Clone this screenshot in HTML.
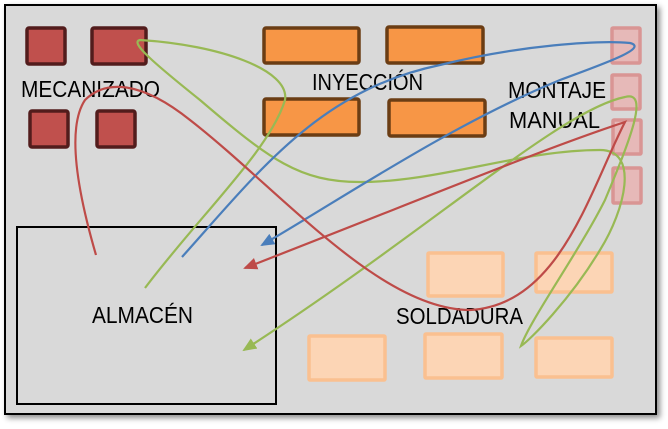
<!DOCTYPE html>
<html><head><meta charset="utf-8"><style>
html,body{margin:0;padding:0;background:#fff;}
svg{display:block;}
text{font-family:"Liberation Sans",sans-serif;font-size:23px;fill:#000;}
</style></head><body>
<svg width="668" height="429" viewBox="0 0 668 429" xmlns="http://www.w3.org/2000/svg">
<defs>
<filter id="sh" x="-5%" y="-5%" width="110%" height="110%"><feDropShadow dx="3" dy="3" stdDeviation="3" flood-color="#000" flood-opacity="0.45"/></filter>
<marker id="ab" markerWidth="14" markerHeight="12" refX="12" refY="6" orient="auto" markerUnits="userSpaceOnUse"><path d="M0,0 L14,6 L0,12 z" fill="#4a7ebb"/></marker>
<marker id="ar" markerWidth="14" markerHeight="12" refX="12" refY="6" orient="auto" markerUnits="userSpaceOnUse"><path d="M0,0 L14,6 L0,12 z" fill="#be4b48"/></marker>
<marker id="ag" markerWidth="14" markerHeight="12" refX="12" refY="6" orient="auto" markerUnits="userSpaceOnUse"><path d="M0,0 L14,6 L0,12 z" fill="#98b954"/></marker>
</defs>
<rect x="5" y="5" width="651" height="409" fill="#d9d9d9" stroke="#000" stroke-width="2" filter="url(#sh)"/>
<g fill="#c0504d" stroke="#521c1c" stroke-width="3.5">
<rect x="27" y="28" width="38" height="36" rx="2"/>
<rect x="92" y="28" width="54" height="36" rx="2"/>
<rect x="30" y="111" width="38" height="36" rx="2"/>
<rect x="97" y="111" width="38" height="36" rx="2"/>
</g>
<g fill="#f79646" stroke="#6b3d14" stroke-width="3.5">
<rect x="264" y="28" width="95" height="35" rx="2"/>
<rect x="387" y="27" width="96" height="36" rx="2"/>
<rect x="264" y="99" width="95" height="36" rx="2"/>
<rect x="389" y="100" width="96" height="36" rx="2"/>
</g>
<g fill="#e6b9b8" stroke="#d99594" stroke-width="3.5">
<rect x="612" y="28" width="28" height="35" rx="1"/>
<rect x="612" y="75" width="28" height="34" rx="1"/>
<rect x="613" y="120" width="28" height="34" rx="1"/>
<rect x="613" y="168" width="28" height="35" rx="1"/>
</g>
<g fill="#fcd5b5" stroke="#fac090" stroke-width="3.5">
<rect x="428" y="253" width="75" height="43" rx="1"/>
<rect x="536" y="253" width="76" height="39" rx="1"/>
<rect x="309" y="336" width="76" height="44" rx="1"/>
<rect x="425" y="334" width="77" height="44" rx="1"/>
<rect x="536" y="338" width="76" height="39" rx="1"/>
</g>
<rect x="17" y="227" width="259" height="177" fill="none" stroke="#000" stroke-width="2"/>
<text x="21" y="97" textLength="139" lengthAdjust="spacingAndGlyphs">MECANIZADO</text>
<text x="312" y="90" textLength="111" lengthAdjust="spacingAndGlyphs">INYECCIÓN</text>
<text x="508" y="98" textLength="98" lengthAdjust="spacingAndGlyphs">MONTAJE</text>
<text x="509" y="128" textLength="91" lengthAdjust="spacingAndGlyphs">MANUAL</text>
<text x="92" y="323" textLength="101" lengthAdjust="spacingAndGlyphs">ALMACÉN</text>
<text x="396" y="324" textLength="127" lengthAdjust="spacingAndGlyphs">SOLDADURA</text>
<g fill="none" stroke-width="2.2">
<path d="M145,288 C200,215 270,150 285,100 C290,70 220,45 140,40 C130,42 150,60 200,100 C270,160 300,182 360,182 C440,182 520,150 600,150 C640,150 625,210 600,250 C570,300 530,340 521,346 C530,320 580,250 605,200 C630,140 650,90 625,97 C560,110 430,230 244,350" stroke="#98b954" marker-end="url(#ag)"/>
<path d="M182,257 C260,170 320,90 440,65 C520,45 600,40 630,43 C650,48 600,65 560,80 C450,125 340,200 262,245" stroke="#4a7ebb" marker-end="url(#ab)"/>
<path d="M96,255 C80,200 65,130 85,100 C105,80 140,80 190,120 C280,190 380,310 470,310 C560,305 590,190 625,122 C540,150 420,200 245,268" stroke="#be4b48" marker-end="url(#ar)"/>
</g>
</svg>
</body></html>
